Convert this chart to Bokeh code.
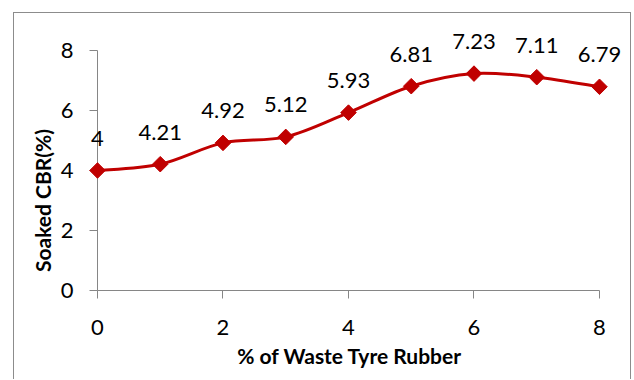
import math
from bokeh.plotting import figure
from bokeh.models import ColumnDataSource, LabelSet, Label, Range1d, FixedTicker
from bokeh.core.properties import value
from bokeh.embed import file_html
from bokeh.resources import INLINE

# Soaked CBR against waste tyre rubber content
rubber_pct = [0, 1, 2, 3, 4, 5, 6, 7, 8]
soaked_cbr = [4.00, 4.21, 4.92, 5.12, 5.93, 6.81, 7.23, 7.11, 6.79]
cbr_labels = ["4", "4.21", "4.92", "5.12", "5.93", "6.81", "7.23", "7.11", "6.79"]
x_ticks = [0, 2, 4, 6, 8]
y_ticks = [0, 2, 4, 6, 8]

LINE_RED = "#C00000"
AXIS_GREY = "#868686"
FONT = "Lato"

# The frame fills the whole chart box; both axes are pinned at zero inside it
p = figure(
    width=618, height=367,
    x_range=Range1d(-1.3227, 8.5259), y_range=Range1d(-3.0, 9.2333),
    min_border_left=0, min_border_right=0, min_border_top=0, min_border_bottom=0,
    output_backend="svg", toolbar_location=None,
)
p.margin = (12, 0, 0, 13)
p.styles = {
    "border-top": "1px solid #8c8c8c",
    "border-left": "1px solid #8c8c8c",
    "border-right": "1px solid #8c8c8c",
}
p.outline_line_color = None
p.grid.visible = False
p.background_fill_color = "white"
p.border_fill_color = "white"

for ax in (p.xaxis[0], p.yaxis[0]):
    ax.fixed_location = 0
    ax.bounds = (0, 8)
    ax.level = "underlay"
    ax.axis_line_color = AXIS_GREY
    ax.axis_line_width = 1
    ax.major_tick_line_color = AXIS_GREY
    ax.major_tick_out = 8
    ax.major_tick_in = 0
    ax.minor_tick_line_color = None
    ax.major_label_text_font = FONT
    ax.major_label_text_font_size = "22px"
    ax.major_label_text_color = "black"

p.xaxis.ticker = FixedTicker(ticks=x_ticks)
p.yaxis.ticker = FixedTicker(ticks=y_ticks)
p.xaxis.major_label_standoff = 22
p.yaxis.major_label_standoff = 16

# Smoothed curve: Catmull-Rom segments drawn as cubic Beziers
n = len(rubber_pct)
x0, y0, x1, y1, cx0, cy0, cx1, cy1 = [], [], [], [], [], [], [], []
for i in range(n - 1):
    xp, yp = (rubber_pct[i - 1], soaked_cbr[i - 1]) if i > 0 else (rubber_pct[i], soaked_cbr[i])
    xa, ya = rubber_pct[i], soaked_cbr[i]
    xb, yb = rubber_pct[i + 1], soaked_cbr[i + 1]
    xn, yn = (rubber_pct[i + 2], soaked_cbr[i + 2]) if i + 2 < n else (xb, yb)
    x0.append(xa); y0.append(ya); x1.append(xb); y1.append(yb)
    cx0.append(xa + (xb - xp) / 6); cy0.append(ya + (yb - yp) / 6)
    cx1.append(xb - (xn - xa) / 6); cy1.append(yb - (yn - ya) / 6)

p.bezier(x0=x0, y0=y0, x1=x1, y1=y1, cx0=cx0, cy0=cy0, cx1=cx1, cy1=cy1,
         line_color=LINE_RED, line_width=3)

src = ColumnDataSource(dict(x=rubber_pct, y=soaked_cbr, label=cbr_labels))
p.scatter("x", "y", source=src, marker="square", angle=math.pi / 4, size=11,
          fill_color=LINE_RED, line_color=LINE_RED)

p.add_layout(LabelSet(x="x", y="y", text="label", source=src,
                      text_align="center", text_baseline="middle", y_offset=32,
                      text_font=value(FONT), text_font_size=value("22px"),
                      text_color="black"))

# Axis titles
p.add_layout(Label(x=4.02, y=-2.17, text="% of Waste Tyre Rubber",
                   text_align="center", text_baseline="middle",
                   text_font=FONT, text_font_style="bold", text_font_size="21px",
                   text_color="black"))
p.add_layout(Label(x=-0.88, y=3.0, text="Soaked CBR(%)", angle=math.pi / 2,
                   text_align="center", text_baseline="middle",
                   text_font=FONT, text_font_style="bold", text_font_size="21px",
                   text_color="black"))

open("out.html", "w").write(file_html(p, INLINE))
